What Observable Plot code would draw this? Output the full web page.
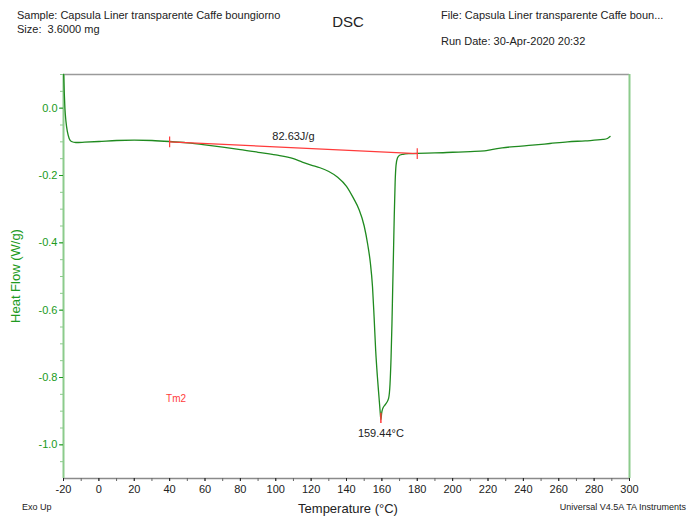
<!DOCTYPE html>
<html>
<head>
<meta charset="utf-8">
<script src="https://cdn.jsdelivr.net/npm/d3@7"></script>
<script src="https://cdn.jsdelivr.net/npm/@observablehq/plot@0.6"></script>
<style>
  html, body { margin: 0; padding: 0; background: #fff; }
  #chart { width: 693px; height: 518px; }
</style>
</head>
<body>
<div id="chart"></div>
<script>
// DSC heating scan: temperature (°C) vs heat flow (W/g)
const temperature = [
  -19.9, -19.6, -19.2, -18.6, -17.8, -16.8, -15.5, -13, -8, 0, 10, 20, 30, 40,
  50, 60, 70, 80, 90, 100, 110, 115, 120, 125, 130, 135, 140, 144, 147, 150,
  152, 153.5, 154.7, 155.6, 156.5, 157.5, 158.4, 159.0, 159.44, 159.9, 160.5,
  162.0, 163.8, 164.6, 165.2, 165.7, 166.1, 166.6, 167.0, 167.5, 168.0, 168.8,
  170, 172, 176, 180, 190, 200, 210, 218, 222, 228, 235, 245, 255, 265, 275,
  285, 287.5, 289
];
const heatFlow = [
  0.10, 0.05, 0.0, -0.04, -0.07, -0.09, -0.099, -0.102, -0.101, -0.099, -0.096,
  -0.095, -0.096, -0.099, -0.103, -0.109, -0.116, -0.123, -0.131, -0.139, -0.150,
  -0.160, -0.169, -0.177, -0.188, -0.205, -0.232, -0.268, -0.300, -0.350, -0.405,
  -0.460, -0.530, -0.620, -0.720, -0.800, -0.860, -0.900, -0.925, -0.905, -0.892,
  -0.880, -0.862, -0.820, -0.740, -0.640, -0.540, -0.420, -0.320, -0.220, -0.170,
  -0.148, -0.140, -0.137, -0.135, -0.134, -0.133, -0.131, -0.129, -0.127, -0.123,
  -0.118, -0.114, -0.110, -0.105, -0.100, -0.097, -0.093, -0.090, -0.084
];

// Integration baseline and result
const baselineT = [40, 180];
const baselineHF = [-0.100, -0.135];
const enthalpyLabel = "82.63J/g";

// Melting peak
const peakT = 159.44;
const peakHF = -0.925;
const peakLabel = "159.44°C";
const transitionLabel = "Tm2";

// Axis ticks
const xTicks = [-20, 0, 20, 40, 60, 80, 100, 120, 140, 160, 180, 200, 220, 240, 260, 280, 300];
const xMinorTicks = d3.range(-20, 301, 10);
const yTicks = [0.0, -0.2, -0.4, -0.6, -0.8, -1.0];
const yMinorTicks = [0.1, 0.05, 0.0, -0.05, -0.1, -0.15, -0.2, -0.25, -0.3, -0.35, -0.4, -0.45, -0.5,
  -0.55, -0.6, -0.65, -0.7, -0.75, -0.8, -0.85, -0.9, -0.95, -1.0, -1.05];

const curve = temperature.map((t, i) => ({t, hf: heatFlow[i]}));
const baseline = baselineT.map((t, i) => ({t, hf: baselineHF[i]}));
const baseMid = {t: (baselineT[0] + baselineT[1]) / 2, hf: (baselineHF[0] + baselineHF[1]) / 2};

const GREEN = "#1f8a1f";
const AXIS_GREEN = "#8ccb8c";
const LABEL_GREEN = "#209a20";
const RED = "#ff3b3b";
const TEXT = "#222";

const svg = Plot.plot({
  width: 693,
  height: 518,
  marginLeft: 63,
  marginRight: 64,
  marginTop: 74,
  marginBottom: 40,
  style: {fontFamily: "'Liberation Sans', Arial, sans-serif", fontSize: "11px", background: "#fff"},
  x: {domain: [-20, 300], axis: null},
  y: {domain: [-1.1, 0.1], axis: null},
  marks: [
    // frame
    Plot.ruleY([0.1], {stroke: "#9a9a9a", strokeWidth: 1.5}),
    Plot.ruleY([-1.1], {stroke: "#8a8a8a", strokeWidth: 1.5}),
    Plot.ruleX([300], {stroke: AXIS_GREEN, strokeWidth: 2}),
    Plot.ruleX([-20], {stroke: AXIS_GREEN, strokeWidth: 2}),
    // x axis
    Plot.axisX({ticks: xMinorTicks, tickSize: 3, text: null, color: "#666", label: null}),
    Plot.axisX({ticks: xTicks, tickSize: 3, tickPadding: 4, tickFormat: d => String(d),
      color: TEXT, fill: TEXT, fontSize: 11, label: null}),
    // y axis: minor and major ticks, green labels
    Plot.axisY({ticks: yMinorTicks, tickSize: 3, text: null, color: AXIS_GREEN, label: null}),
    Plot.axisY({ticks: yTicks, tickSize: 4, text: null, color: LABEL_GREEN, label: null}),
    Plot.text(yTicks, {y: d => d, frameAnchor: "left", dx: -6, textAnchor: "end",
      text: d => d.toFixed(1), fill: LABEL_GREEN, fontSize: 11}),
    // heat flow signal
    Plot.line(curve, {x: "t", y: "hf", stroke: GREEN, strokeWidth: 1.3, curve: "monotone-x"}),
    // integration baseline with end markers
    Plot.line(baseline, {x: "t", y: "hf", stroke: RED, strokeWidth: 1.2}),
    Plot.link(baseline, {x1: "t", x2: "t", y1: d => d.hf + 0.016, y2: d => d.hf - 0.016, stroke: RED, strokeWidth: 1.2}),
    Plot.text([baseMid], {x: "t", y: "hf", text: () => enthalpyLabel, dy: -11, fill: TEXT, fontSize: 11}),
    // peak marker and label
    Plot.link([{t: peakT, hf: peakHF}], {x1: "t", x2: "t", y1: d => d.hf + 0.02, y2: d => d.hf - 0.01, stroke: RED, strokeWidth: 1.5}),
    Plot.text([{t: peakT, hf: peakHF}], {x: "t", y: "hf", text: () => peakLabel, dy: 14, fill: TEXT, fontSize: 11}),
    Plot.text([{t: 38, hf: -0.863}], {x: "t", y: "hf", text: () => transitionLabel, textAnchor: "start", fill: RED, fontSize: 10})
  ]
});

// Header, axis titles and footer notes
const s = d3.select(svg);
const addText = (x, y, str, opts = {}) => {
  const t = s.append("text")
    .attr("x", x).attr("y", y)
    .attr("font-family", "'Liberation Sans', Arial, sans-serif")
    .attr("font-size", opts.size || 11)
    .attr("fill", opts.fill || TEXT)
    .attr("text-anchor", opts.anchor || "start")
    .style("white-space", "pre")
    .text(str);
  if (opts.rotate) t.attr("transform", `rotate(${opts.rotate},${x},${y})`);
  return t;
};
addText(17, 19, "Sample: Capsula Liner transparente Caffe boungiorno");
addText(17, 33, "Size:  3.6000 mg");
addText(348, 27, "DSC", {size: 15, anchor: "middle"});
addText(441, 19, "File: Capsula Liner transparente Caffe boun...");
addText(441, 45, "Run Date: 30-Apr-2020 20:32");
addText(348, 513, "Temperature (°C)", {size: 13, anchor: "middle"});
addText(20, 276, "Heat Flow (W/g)", {size: 13, anchor: "middle", fill: LABEL_GREEN, rotate: -90});
addText(22, 510, "Exo Up", {size: 9});
addText(686, 510, "Universal V4.5A TA Instruments", {size: 9, anchor: "end"});

document.getElementById("chart").appendChild(svg);
</script>
</body>
</html>
